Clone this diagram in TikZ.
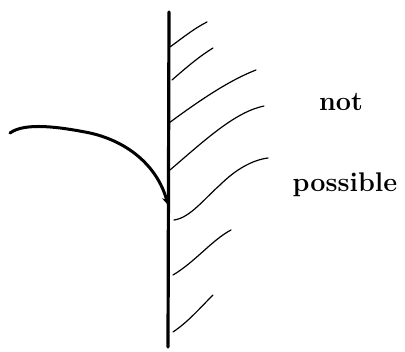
\documentclass[tikz,border=0pt]{standalone}
\usetikzlibrary{arrows.meta}
\begin{document}
\begin{tikzpicture}[x=1pt,y=-1pt,
  wall/.style={line width=3.2pt,line cap=round},
  hatch/.style={line width=1.2pt,line cap=round},
  path/.style={line width=3pt,line cap=round},
  lbl/.style={font=\fontsize{27}{30}\selectfont\bfseries,inner sep=0pt}]
\useasboundingbox (0,0) rectangle (405,352);
\draw[wall] (169,12) -- (168,347);
% hatch lines
\draw[hatch] (170,47) .. controls (185,36) and (195,28) .. (207,22);
\draw[hatch] (172,80) .. controls (188,66) and (200,56) .. (213,48);
\draw[hatch] (169,123) .. controls (200,100) and (230,80) .. (256,70);
\draw[hatch] (170,170) .. controls (205,140) and (235,112) .. (264,106);
\draw[hatch] (174,220) .. controls (190,218) and (205,198) .. (220,185) .. controls (235,170) and (252,160) .. (268,158);
\draw[hatch] (173,275) .. controls (195,262) and (212,240) .. (231,230);
\draw[hatch] (173,332) .. controls (188,322) and (200,308) .. (213,295);
% curved arrow
\draw[path,-{Stealth[length=8pt,width=8pt]}] (10,133) .. controls (25,122) and (60,127) .. (90,133) .. controls (130,142) and (158,168) .. (168,205);
% labels
\node[lbl] (not) at (341,102) {not};
\node[lbl] (pos) at (345,185) {possible};
\end{tikzpicture}
\end{document}
